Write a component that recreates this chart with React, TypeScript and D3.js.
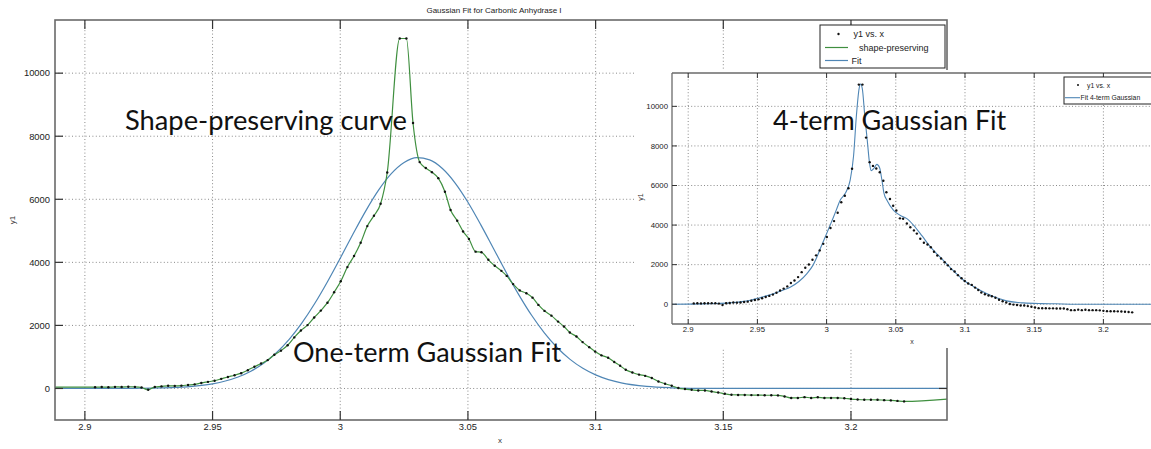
import React from 'react';
import * as d3 from 'd3';

// ---- measured data: y1 vs. x ----
const dataX = [
  2.904, 2.9066, 2.9092, 2.9118, 2.9144, 2.917, 2.9196, 2.9222, 2.9248, 2.9274, 2.93, 2.9326, 2.9352, 2.9378, 2.9404,
  2.943, 2.9456, 2.9482, 2.9508, 2.9534, 2.956, 2.9586, 2.9612, 2.9638, 2.9664, 2.969, 2.9716, 2.9742, 2.9768, 2.9794,
  2.982, 2.9846, 2.9872, 2.9898, 2.9924, 2.995, 2.9976, 3.0002, 3.0028, 3.0054, 3.008, 3.0106, 3.0132, 3.0158, 3.0184,
  3.0233, 3.0259, 3.0285, 3.0311, 3.0335, 3.0359, 3.0384, 3.041, 3.0432, 3.0458, 3.0481, 3.0504, 3.053, 3.0553, 3.058,
  3.0605, 3.0631, 3.0652, 3.0677, 3.0703, 3.0729, 3.0753, 3.0776, 3.08, 3.0827, 3.0853, 3.0876, 3.0899, 3.0925, 3.0949,
  3.0975, 3.0998, 3.1023, 3.1049, 3.1073, 3.1096, 3.1118, 3.1144, 3.117, 3.1194, 3.122, 3.1246, 3.1272, 3.1298, 3.1324,
  3.135, 3.1376, 3.1402, 3.1428, 3.1454, 3.148, 3.1506, 3.1532, 3.1558, 3.1584, 3.161, 3.1636, 3.1662, 3.1688, 3.1714,
  3.174, 3.1766, 3.1792, 3.1818, 3.1844, 3.187, 3.1896, 3.1922, 3.1948, 3.1974, 3.2, 3.2026, 3.2052, 3.2078, 3.2104,
  3.213, 3.2156, 3.2182, 3.2208,
];
const dataY = [
  40, 45, 40, 50, 45, 55, 50, 30, -40, 50, 65, 85, 80, 90, 110,
  130, 175, 210, 245, 305, 365, 420, 485, 580, 690, 790, 900, 1070, 1200, 1370,
  1620, 1840, 2010, 2250, 2470, 2720, 3050, 3400, 3850, 4200, 4620, 5150, 5480, 5860, 6850,
  11100, 11100, 8420, 7180, 6990, 6860, 6670, 6240, 5660, 5320, 4980, 4740, 4340, 4320, 4080,
  3890, 3730, 3570, 3310, 3110, 3020, 2880, 2650, 2460, 2310, 2120, 1965, 1775, 1650, 1470,
  1310, 1170, 1050, 975, 840, 720, 595, 507, 440, 400, 330, 222, 150, 86, 13,
  -19, -41, -63, -63, -95, -127, -168, -200, -205, -205, -210, -210, -215, -215, -220,
  -253, -300, -300, -275, -300, -280, -300, -300, -300, -310, -336, -350, -357, -357, -360,
  -370, -378, -395, -410,
];
// shape-preserving interpolant, extended to the axis limits
const shapeStartX = 2.8883;
const shapeStartY = 40;
const shapeEndX = 3.2376;
const shapeEndY = -336;

// ---- one-term Gaussian fit (main plot) ----
const fit1X = [
  2.888, 2.9, 2.91, 2.92, 2.93, 2.94, 2.95, 2.955, 2.96, 2.965, 2.97, 2.975, 2.98, 2.985, 2.99,
  2.995, 3.0, 3.005, 3.01, 3.015, 3.02, 3.025, 3.03, 3.035, 3.04, 3.045, 3.05, 3.055, 3.06, 3.065,
  3.07, 3.075, 3.08, 3.085, 3.09, 3.095, 3.1, 3.105, 3.11, 3.12, 3.13, 3.14, 3.15, 3.16, 3.2376,
];
const fit1Y = [
  0, 0, 1, 5, 17, 53, 148, 236, 364, 548, 800, 1133, 1557, 2079, 2693,
  3386, 4132, 4897, 5632, 6288, 6811, 7165, 7319, 7250, 6976, 6515, 5906, 5197, 4440, 3680,
  2962, 2313, 1755, 1291, 923, 640, 431, 282, 179, 66, 22, 6, 2, 0, 0,
];

// ---- four-term Gaussian fit (inset) ----
const fit4X = [
  2.888, 2.9, 2.91, 2.92, 2.93, 2.9376, 2.945, 2.9496, 2.955, 2.962, 2.968, 2.974, 2.98, 2.9858, 2.99,
  2.993, 2.996, 2.999, 3.002, 3.005, 3.0075, 3.0098, 3.0134, 3.017, 3.0195, 3.0215, 3.0235, 3.0245, 3.0258, 3.0275,
  3.0295, 3.031, 3.0322, 3.034, 3.0363, 3.0383, 3.04, 3.0415, 3.0436, 3.0484, 3.053, 3.058, 3.0629, 3.069, 3.075,
  3.081, 3.087, 3.093, 3.099, 3.106, 3.1134, 3.12, 3.13, 3.1422, 3.155, 3.165, 3.18, 3.2376,
];
const fit4Y = [
  0, 5, 15, 35, 70, 116, 200, 287, 390, 540, 700, 874, 1150, 1550, 1950,
  2389, 2900, 3399, 3900, 4409, 4850, 5253, 5590, 6262, 7500, 9500, 10900, 11130, 10900, 9600,
  8200, 7150, 6750, 6850, 7070, 6900, 6262, 5600, 5252, 4747, 4500, 4327, 3990, 3450, 2894,
  2450, 2020, 1600, 1212, 900, 621, 400, 167, 66, 30, 20, 0, 0,
];

const xTicks = [2.9, 2.95, 3, 3.05, 3.1, 3.15, 3.2];
const xTickLabels = ['2.9', '2.95', '3', '3.05', '3.1', '3.15', '3.2'];
const yTicks = [0, 2000, 4000, 6000, 8000, 10000];
const yTickLabels = ['0', '2000', '4000', '6000', '8000', '10000'];

const mainLegend = ['y1 vs. x', 'shape-preserving', 'Fit'];
const insetLegend = ['y1 vs. x', 'Fit 4-term Gaussian'];
const titleText = 'Gaussian Fit for Carbonic Anhydrase I';

const GREEN = '#3f8f3f';
const BLUE = '#4f86b5';
const AXIS = '#6a6a6a';
const GRID = '#8a8a8a';
const TICKFONT = '"Liberation Sans", Arial, sans-serif';
const ANNOFONT = 'Lato, "Open Sans", sans-serif';

type Pt = [number, number];
const zip = (xs: number[], ys: number[]): Pt[] => xs.map((x, i) => [x, ys[i]]);

export default function App() {
  const W = 1151, H = 449;
  const xDomain: [number, number] = [2.8883, 3.2376];
  const yDomain: [number, number] = [-1000, 11686];

  // main axes
  const mL = 55, mR = 947, mT = 20, mB = 420;
  const x = d3.scaleLinear().domain(xDomain).range([mL, mR]);
  const y = d3.scaleLinear().domain(yDomain).range([mB, mT]);

  // inset axes
  const iL = 672, iT = 73, iB = 324;
  const iR = iL + (xDomain[1] - xDomain[0]) * 1384;
  const xi = d3.scaleLinear().domain(xDomain).range([iL, iR]);
  const yi = d3.scaleLinear().domain(yDomain).range([iB, iT]);

  const data = zip(dataX, dataY);
  const shapePts: Pt[] = [[shapeStartX, shapeStartY], ...data, [shapeEndX, shapeEndY]];
  const fit1 = zip(fit1X, fit1Y);
  const fit4 = zip(fit4X, fit4Y);

  const lineMain = d3.line<Pt>().x(d => x(d[0])).y(d => y(d[1])).curve(d3.curveMonotoneX);
  const lineInset = d3.line<Pt>().x(d => xi(d[0])).y(d => yi(d[1])).curve(d3.curveMonotoneX);

  return (
    <svg width={W} height={H} style={{ position: 'absolute', left: 0, top: 0, background: '#fff' }}>
      <defs>
        <clipPath id="mainClip"><rect x={mL} y={mT} width={mR - mL} height={mB - mT} /></clipPath>
        <clipPath id="insetClip"><rect x={iL} y={iT} width={W - iL} height={iB - iT} /></clipPath>
      </defs>
      <rect x={0} y={0} width={W} height={H} fill="#fff" />

      {/* ===== MAIN PLOT ===== */}
      <text x={494} y={13} fontFamily={TICKFONT} fontSize={8} textAnchor="middle" fill="#222">{titleText}</text>
      <g>
        {xTicks.map(t => (
          <line key={'gx' + t} x1={x(t)} x2={x(t)} y1={mT} y2={mB} stroke={GRID} strokeWidth={1} strokeDasharray="1,2.4" />
        ))}
        {yTicks.map(t => (
          <line key={'gy' + t} x1={mL} x2={mR} y1={y(t)} y2={y(t)} stroke={GRID} strokeWidth={1} strokeDasharray="1,2.4" />
        ))}
      </g>
      <g clipPath="url(#mainClip)">
        <path d={lineMain(fit1) || ''} fill="none" stroke={BLUE} strokeWidth={1.2} />
        <path d={lineMain(shapePts) || ''} fill="none" stroke={GREEN} strokeWidth={1.2} />
        {data.map((d, i) => (
          <circle key={'md' + i} cx={x(d[0])} cy={y(d[1])} r={1.2} fill="#111" />
        ))}
      </g>
      <rect x={mL} y={mT} width={mR - mL} height={mB - mT} fill="none" stroke={AXIS} strokeWidth={1.6} />
      {xTicks.map((t, i) => (
        <g key={'tx' + t}>
          <line x1={x(t)} x2={x(t)} y1={mB} y2={mB - 9} stroke="#333" strokeWidth={1.2} />
          <line x1={x(t)} x2={x(t)} y1={mT} y2={mT + 9} stroke="#333" strokeWidth={1.2} />
          <text x={x(t)} y={430} fontFamily={TICKFONT} fontSize={9.4} textAnchor="middle" fill="#222">{xTickLabels[i]}</text>
        </g>
      ))}
      {yTicks.map((t, i) => (
        <g key={'ty' + t}>
          <line x1={mL} x2={mL + 8} y1={y(t)} y2={y(t)} stroke="#333" strokeWidth={1.2} />
          <line x1={mR} x2={mR - 8} y1={y(t)} y2={y(t)} stroke="#333" strokeWidth={1.2} />
          <text x={50} y={y(t) + 3.3} fontFamily={TICKFONT} fontSize={9.4} textAnchor="end" fill="#222">{yTickLabels[i]}</text>
        </g>
      ))}
      <text x={500} y={443} fontFamily={TICKFONT} fontSize={8} textAnchor="middle" fill="#333">x</text>
      <text transform="translate(15,220) rotate(-90)" fontFamily={TICKFONT} fontSize={8} textAnchor="middle" fill="#333">y1</text>

      {/* main legend */}
      <g>
        <rect x={820} y={25} width={125} height={43} fill="#fff" stroke="#222" strokeWidth={1} />
        <circle cx={838.5} cy={34} r={1.2} fill="#111" />
        <text x={853.5} y={37} fontFamily={TICKFONT} fontSize={9} fill="#222">{mainLegend[0]}</text>
        <line x1={825} x2={848} y1={47.5} y2={47.5} stroke={GREEN} strokeWidth={1.2} />
        <text x={859} y={50.5} fontFamily={TICKFONT} fontSize={9} fill="#222">{mainLegend[1]}</text>
        <line x1={825} x2={848} y1={60.5} y2={60.5} stroke={BLUE} strokeWidth={1.2} />
        <text x={851.5} y={63.5} fontFamily={TICKFONT} fontSize={9} fill="#222">{mainLegend[2]}</text>
      </g>

      {/* ===== INSET ===== */}
      <rect x={636} y={70} width={W - 636} height={278} fill="#fff" />
      <g>
        {xTicks.map(t => (
          <line key={'igx' + t} x1={xi(t)} x2={xi(t)} y1={iT} y2={iB} stroke={GRID} strokeWidth={1} strokeDasharray="1,2.2" />
        ))}
        {yTicks.map(t => (
          <line key={'igy' + t} x1={iL} x2={W} y1={yi(t)} y2={yi(t)} stroke={GRID} strokeWidth={1} strokeDasharray="1,2.2" />
        ))}
      </g>
      <g clipPath="url(#insetClip)">
        <path d={lineInset(fit4) || ''} fill="none" stroke={BLUE} strokeWidth={1.1} />
        {data.map((d, i) => (
          <circle key={'id' + i} cx={xi(d[0])} cy={yi(d[1])} r={1.2} fill="#111" />
        ))}
      </g>
      <line x1={iL} x2={W} y1={iT} y2={iT} stroke={AXIS} strokeWidth={1.3} />
      <line x1={iL} x2={W} y1={iB} y2={iB} stroke={AXIS} strokeWidth={1.3} />
      <line x1={iL} x2={iL} y1={iT} y2={iB} stroke={AXIS} strokeWidth={1.3} />
      {xTicks.map((t, i) => (
        <g key={'itx' + t}>
          <line x1={xi(t)} x2={xi(t)} y1={iB} y2={iB - 5} stroke="#333" strokeWidth={1} />
          <line x1={xi(t)} x2={xi(t)} y1={iT} y2={iT + 5} stroke="#333" strokeWidth={1} />
          <text x={xi(t)} y={332} fontFamily={TICKFONT} fontSize={7.8} textAnchor="middle" fill="#222">{xTickLabels[i]}</text>
        </g>
      ))}
      {yTicks.map((t, i) => (
        <g key={'ity' + t}>
          <line x1={iL} x2={iL + 5} y1={yi(t)} y2={yi(t)} stroke="#333" strokeWidth={1} />
          <text x={668} y={yi(t) + 2.8} fontFamily={TICKFONT} fontSize={7.8} textAnchor="end" fill="#222">{yTickLabels[i]}</text>
        </g>
      ))}
      <text x={912} y={344} fontFamily={TICKFONT} fontSize={7} textAnchor="middle" fill="#333">x</text>
      <text transform="translate(643,197) rotate(-90)" fontFamily={TICKFONT} fontSize={7} textAnchor="middle" fill="#333">y1</text>

      {/* inset legend */}
      <g>
        <rect x={1064} y={77} width={88} height={27} fill="#fff" stroke="#222" strokeWidth={1} />
        <circle cx={1078} cy={85} r={1} fill="#111" />
        <text x={1087} y={87.5} fontFamily={TICKFONT} fontSize={6.8} fill="#222">{insetLegend[0]}</text>
        <line x1={1065} x2={1080} y1={97.7} y2={97.7} stroke={BLUE} strokeWidth={1.1} />
        <text x={1080.5} y={100} fontFamily={TICKFONT} fontSize={6.8} fill="#222">{insetLegend[1]}</text>
      </g>

      {/* ===== annotations ===== */}
      <text x={125} y={130} fontFamily={ANNOFONT} fontSize={27.3} fill="#111">Shape-preserving curve</text>
      <text x={293} y={362} fontFamily={ANNOFONT} fontSize={27} fill="#111">One-term Gaussian Fit</text>
      <text x={773} y={130} fontFamily={ANNOFONT} fontSize={27} fill="#111">4-term Gaussian Fit</text>
    </svg>
  );
}
